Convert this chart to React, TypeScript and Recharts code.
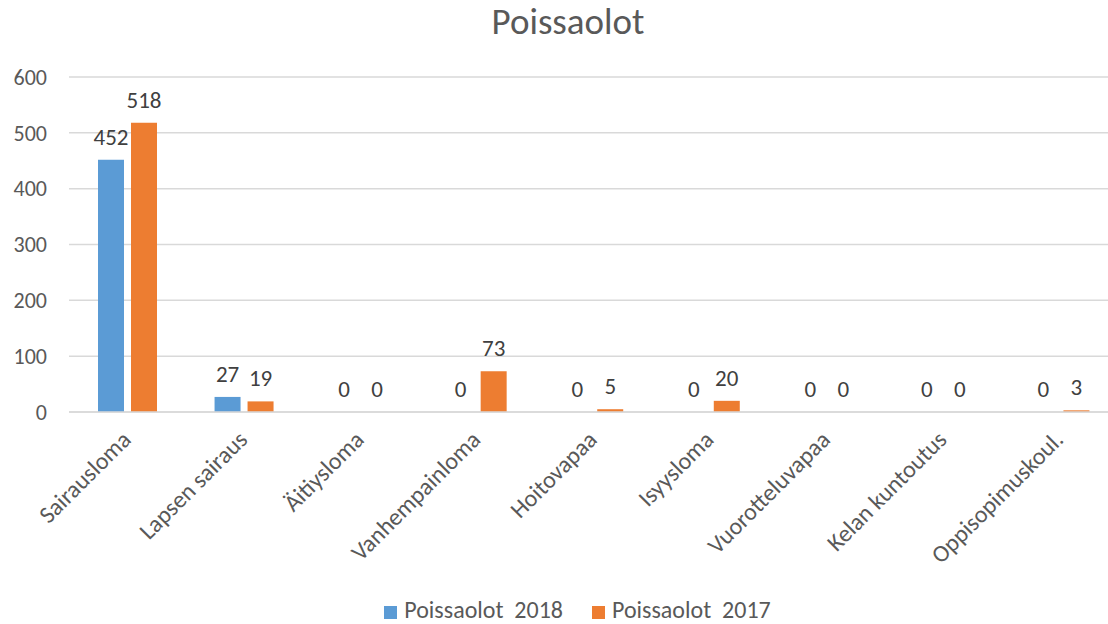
import { BarChart, Bar, XAxis, YAxis, CartesianGrid, Legend, LabelList } from "recharts";

const categories = [
	"Sairausloma",
	"Lapsen sairaus",
	"Äitiysloma",
	"Vanhempainloma",
	"Hoitovapaa",
	"Isyysloma",
	"Vuorotteluvapaa",
	"Kelan kuntoutus",
	"Oppisopimuskoul.",
];
const values2018 = [452, 27, 0, 0, 0, 0, 0, 0, 0];
const values2017 = [518, 19, 0, 73, 5, 20, 0, 0, 3];
const yTicks = [0, 100, 200, 300, 400, 500, 600];

const data = categories.map((name, i) => ({
	name,
	a2018: values2018[i],
	b2017: values2017[i],
}));

const FONT = "Carlito, 'Open Sans', 'Liberation Sans', sans-serif";

// eslint-disable-next-line @typescript-eslint/no-explicit-any
function CategoryTick(props: any) {
	const { x, y, payload } = props;
	return (
		<g transform={`translate(${x + 5},${y + 21})`}>
			<text
				transform="rotate(-45)"
				textAnchor="end"
				fill="#595959"
				fontSize={24}
				fontFamily={FONT}
			>
				{payload.value}
			</text>
		</g>
	);
}

export default function App() {
	return (
		<div
			style={{
				position: "absolute",
				left: 0,
				top: 0,
				width: 1108,
				height: 624,
				overflow: "hidden",
				background: "#fff",
			}}
		>
			<div
				style={{
					position: "absolute",
					top: 3,
					width: 1136,
					textAlign: "center",
					fontFamily: FONT,
					fontSize: 37,
					lineHeight: 1,
					color: "#595959",
				}}
			>
				Poissaolot
			</div>
			<BarChart
				width={1118}
				height={624}
				data={data}
				margin={{ top: 77, right: 0, left: 0, bottom: 0 }}
				barSize={26}
				barGap={7}
			>
				<CartesianGrid vertical={false} stroke="#d9d9d9" strokeWidth={1.5} />
				<XAxis
					dataKey="name"
					interval={0}
					tick={<CategoryTick />}
					tickLine={false}
					axisLine={{ stroke: "#d9d9d9", strokeWidth: 1.5 }}
					height={183}
				/>
				<YAxis
					width={69}
					domain={[0, 600]}
					ticks={yTicks}
					axisLine={false}
					tickLine={false}
					tick={{ fill: "#595959", fontSize: 22, fontFamily: FONT }}
					tickMargin={16}
				/>
				<Legend
					verticalAlign="bottom"
					iconType="square"
					iconSize={13}
					itemSorter="dataKey"
					wrapperStyle={{
						top: 595,
						left: 38,
						width: 1108,
						fontFamily: FONT,
						fontSize: 24,
					}}
					formatter={(value) => (
						<span style={{ color: "#595959", whiteSpace: "pre", marginLeft: 3, marginRight: 19 }}>
							{value}
						</span>
					)}
				/>
				<Bar
					dataKey="a2018"
					name="Poissaolot  2018"
					fill="#5b9bd5"
					minPointSize={0.01}
					isAnimationActive={false}
				>
					<LabelList
						dataKey="a2018"
						position="top"
						offset={15}
						fill="#404040"
						fontSize={23}
						fontFamily={FONT}
					/>
				</Bar>
				<Bar
					dataKey="b2017"
					name="Poissaolot  2017"
					fill="#ed7d31"
					minPointSize={0.01}
					isAnimationActive={false}
				>
					<LabelList
						dataKey="b2017"
						position="top"
						offset={15}
						fill="#404040"
						fontSize={23}
						fontFamily={FONT}
					/>
				</Bar>
			</BarChart>
		</div>
	);
}
